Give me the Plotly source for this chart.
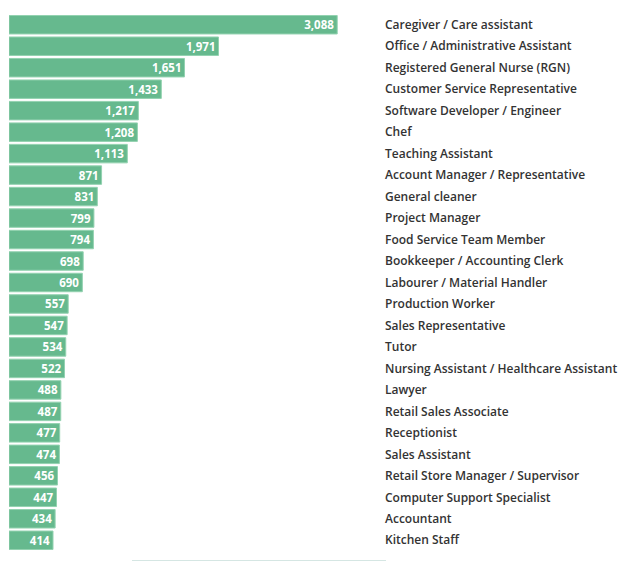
import plotly.graph_objects as go

categories = [
    "Caregiver / Care assistant",
    "Office / Administrative Assistant",
    "Registered General Nurse (RGN)",
    "Customer Service Representative",
    "Software Developer / Engineer",
    "Chef",
    "Teaching Assistant",
    "Account Manager / Representative",
    "General cleaner",
    "Project Manager",
    "Food Service Team Member",
    "Bookkeeper / Accounting Clerk",
    "Labourer / Material Handler",
    "Production Worker",
    "Sales Representative",
    "Tutor",
    "Nursing Assistant / Healthcare Assistant",
    "Lawyer",
    "Retail Sales Associate",
    "Receptionist",
    "Sales Assistant",
    "Retail Store Manager / Supervisor",
    "Computer Support Specialist",
    "Accountant",
    "Kitchen Staff",
]
values = [3088, 1971, 1651, 1433, 1217, 1208, 1113, 871, 831, 799, 794, 698, 690,
          557, 547, 534, 522, 488, 487, 477, 474, 456, 447, 434, 414]

value_labels = [f"{v:,}" for v in values]

fig = go.Figure(go.Bar(
    x=values,
    y=categories,
    orientation="h",
    text=value_labels,
    textposition="inside",
    insidetextanchor="end",
    textangle=0,
    textfont=dict(family="Open Sans", size=11.5, color="white", weight=700),
    marker=dict(color="#66b98e", line=dict(color="#93d2b0", width=1)),
    cliponaxis=False,
    hoverinfo="skip",
))

W, H = 620, 554
L, R, T, B = 1, 247, 6, 11
plot_h = H - T - B
plot_w = W - L - R

fig.update_layout(
    width=W, height=H,
    margin=dict(l=L, r=R, t=T, b=B),
    paper_bgcolor="white", plot_bgcolor="white",
    bargap=0.14,
    showlegend=False,
    uniformtext=dict(minsize=11, mode="show"),
    xaxis=dict(range=[0, 3500], visible=False, fixedrange=True),
    yaxis=dict(
        side="right",
        autorange="reversed",
        showgrid=False, zeroline=False, showline=False,
        ticks="",
        ticklabelstandoff=3,
        tickfont=dict(family="Open Sans", size=12, color="#333333", weight=600),
    ),
    shapes=[dict(type="line", xref="paper", yref="paper",
                 x0=(124 - L) / plot_w, x1=(378 - L) / plot_w,
                 y0=-(B - 1.5) / plot_h, y1=-(B - 1.5) / plot_h,
                 line=dict(color="#d5e6e3", width=1))],
)

fig.write_html("out.html")
